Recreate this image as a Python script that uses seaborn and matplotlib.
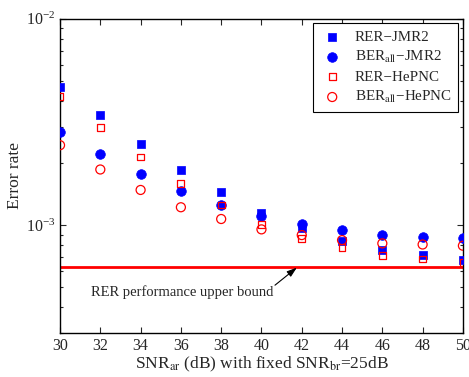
import numpy as np
import pandas as pd
import seaborn as sns
import matplotlib.pyplot as plt
from matplotlib.ticker import LogLocator, NullFormatter

snr = [30, 32, 34, 36, 38, 40, 42, 44, 46, 48, 50]
rer_jmr2 = [4.69e-3, 3.40e-3, 2.47e-3, 1.85e-3, 1.44e-3, 1.15e-3, 0.964e-3, 0.839e-3, 0.757e-3, 0.715e-3, 0.676e-3]
ber_jmr2 = [2.84e-3, 2.22e-3, 1.77e-3, 1.46e-3, 1.25e-3, 1.11e-3, 1.007e-3, 0.946e-3, 0.897e-3, 0.877e-3, 0.867e-3]
rer_hepnc = [4.22e-3, 2.96e-3, 2.14e-3, 1.59e-3, 1.25e-3, 1.01e-3, 0.861e-3, 0.780e-3, 0.715e-3, 0.684e-3, 0.661e-3]
ber_hepnc = [2.44e-3, 1.86e-3, 1.48e-3, 1.22e-3, 1.07e-3, 0.953e-3, 0.894e-3, 0.845e-3, 0.815e-3, 0.805e-3, 0.794e-3]
upper_bound = 6.28e-4

sns.set_style("ticks")
plt.rcParams['font.family'] = ['Liberation Serif', 'DejaVu Serif']
plt.rcParams['mathtext.fontset'] = 'stix'

fig = plt.figure(figsize=(4.69, 3.77), dpi=100)
ax = fig.add_axes([0.128, 0.117, 0.859, 0.833])

df = pd.DataFrame({'snr': snr, 'rer_jmr2': rer_jmr2, 'ber_jmr2': ber_jmr2,
                   'rer_hepnc': rer_hepnc, 'ber_hepnc': ber_hepnc})

sns.scatterplot(data=df, x='snr', y='rer_jmr2', marker='s', s=28, color='#0000ff',
                edgecolor='#0000ff', linewidth=0.5, ax=ax, label='RER\u2212JMR2', zorder=3)
sns.scatterplot(data=df, x='snr', y='ber_jmr2', marker='o', s=48, color='#0000ff',
                edgecolor='#0000ff', linewidth=0.5, ax=ax, label='BER$_{\\mathrm{all}}$\u2212JMR2', zorder=3)
sns.scatterplot(data=df, x='snr', y='rer_hepnc', marker='s', s=24, facecolor='none',
                edgecolor='#ff0000', linewidth=0.9, ax=ax, label='RER\u2212HePNC', zorder=4)
sns.scatterplot(data=df, x='snr', y='ber_hepnc', marker='o', s=42, facecolor='none',
                edgecolor='#ff0000', linewidth=0.9, ax=ax, label='BER$_{\\mathrm{all}}$\u2212HePNC', zorder=4)

ax.axhline(upper_bound, color='#ff0000', lw=2, zorder=2)
ax.text(36.08, 4.73e-4, 'RER performance upper bound', ha='center', va='center', fontsize=10.5)
ax.annotate('', xy=(41.81, upper_bound), xytext=(40.67, 5.11e-4),
            arrowprops=dict(arrowstyle='-|>,head_length=0.6,head_width=0.2', color='black',
                            lw=0.8, shrinkA=0, shrinkB=1), zorder=5)

ax.set_yscale('log')
ax.set_xlim(30, 50)
ax.set_ylim(3e-4, 1e-2)
ax.set_xticks(snr)
ax.yaxis.set_major_locator(LogLocator(base=10, numticks=5))
ax.yaxis.set_minor_locator(LogLocator(base=10, subs=np.arange(2, 10), numticks=20))
ax.yaxis.set_minor_formatter(NullFormatter())

ax.tick_params(which='both', direction='in', top=True, right=True, labelsize=11.5, width=0.8)
ax.tick_params(which='major', length=4)
ax.tick_params(which='minor', length=2)
for sp in ax.spines.values():
    sp.set_linewidth(1.0)
    sp.set_color('black')

ax.set_xlabel('SNR$_{\\mathrm{ar}}$ (dB) with fixed SNR$_{\\mathrm{br}}$=25dB', fontsize=12.5, labelpad=1)
ax.set_ylabel('Error rate', fontsize=12.5, labelpad=2)

leg = ax.legend(loc='upper right', fontsize=10.8, frameon=True, fancybox=False,
                edgecolor='black', framealpha=1, borderpad=0.45, labelspacing=0.35,
                handlelength=1.6, handletextpad=0.7, borderaxespad=0.3)
leg.get_frame().set_linewidth(0.8)

fig.savefig('out.png', dpi=100)
